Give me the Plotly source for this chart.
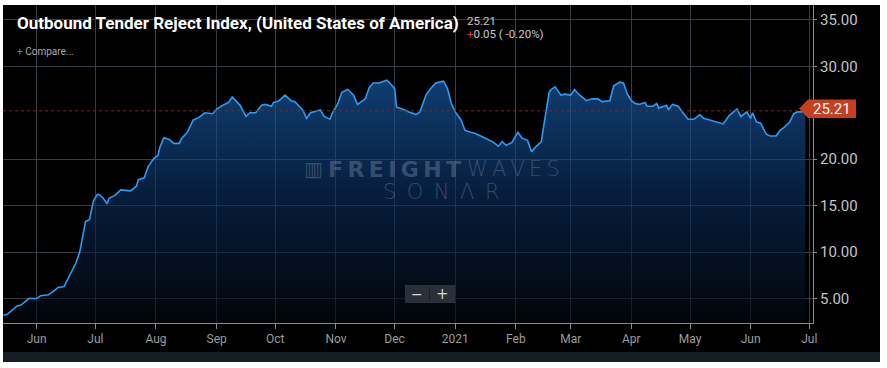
import plotly.graph_objects as go

# ---- data ----
dates = [
    "2020-05-15", "2020-05-17", "2020-05-22", "2020-05-24", "2020-05-28",
    "2020-06-01", "2020-06-03", "2020-06-07", "2020-06-09", "2020-06-12",
    "2020-06-15", "2020-06-17", "2020-06-20", "2020-06-21", "2020-06-23",
    "2020-06-26", "2020-06-28", "2020-06-30", "2020-07-02", "2020-07-03",
    "2020-07-05", "2020-07-07", "2020-07-08", "2020-07-11", "2020-07-14",
    "2020-07-17", "2020-07-19", "2020-07-22", "2020-07-23", "2020-07-26",
    "2020-07-28", "2020-07-31", "2020-08-02", "2020-08-03", "2020-08-05",
    "2020-08-08", "2020-08-10", "2020-08-13", "2020-08-14", "2020-08-17",
    "2020-08-20", "2020-08-23", "2020-08-26", "2020-08-30", "2020-09-01",
    "2020-09-04", "2020-09-07", "2020-09-09", "2020-09-11", "2020-09-13",
    "2020-09-16", "2020-09-18", "2020-09-21", "2020-09-24", "2020-09-26",
    "2020-09-29", "2020-09-30", "2020-10-03", "2020-10-06", "2020-10-09",
    "2020-10-11", "2020-10-15", "2020-10-17", "2020-10-19", "2020-10-24",
    "2020-10-26", "2020-10-29", "2020-10-30", "2020-11-02", "2020-11-04",
    "2020-11-07", "2020-11-10", "2020-11-12", "2020-11-15", "2020-11-16",
    "2020-11-18", "2020-11-20", "2020-11-23", "2020-11-27", "2020-11-29",
    "2020-12-01", "2020-12-02", "2020-12-05", "2020-12-08", "2020-12-12",
    "2020-12-14", "2020-12-17", "2020-12-19", "2020-12-22", "2020-12-26",
    "2020-12-28", "2020-12-30", "2021-01-01", "2021-01-04", "2021-01-06",
    "2021-01-09", "2021-01-11", "2021-01-14", "2021-01-17", "2021-01-20",
    "2021-01-23", "2021-01-25", "2021-01-27", "2021-01-30", "2021-02-02",
    "2021-02-04", "2021-02-07", "2021-02-09", "2021-02-11", "2021-02-14",
    "2021-02-15", "2021-02-16", "2021-02-18", "2021-02-19", "2021-02-21",
    "2021-02-24", "2021-02-26", "2021-03-01", "2021-03-03", "2021-03-05",
    "2021-03-09", "2021-03-12", "2021-03-15", "2021-03-17", "2021-03-21",
    "2021-03-23", "2021-03-26", "2021-03-28", "2021-03-30", "2021-04-01",
    "2021-04-03", "2021-04-05", "2021-04-08", "2021-04-09", "2021-04-12",
    "2021-04-14", "2021-04-15", "2021-04-19", "2021-04-20", "2021-04-22",
    "2021-04-25", "2021-04-27", "2021-04-30", "2021-05-03", "2021-05-06",
    "2021-05-08", "2021-05-11", "2021-05-15", "2021-05-18", "2021-05-21",
    "2021-05-23", "2021-05-25", "2021-05-27", "2021-05-30", "2021-06-01",
    "2021-06-02", "2021-06-04", "2021-06-06", "2021-06-09", "2021-06-11",
    "2021-06-14", "2021-06-16", "2021-06-18", "2021-06-21", "2021-06-23",
    "2021-06-25", "2021-06-27", "2021-06-29",
]
otri = [
    3.2, 3.3, 4.2, 4.3, 5.0,
    5.0, 5.3, 5.4, 5.7, 6.2,
    6.3, 7.1, 8.4, 8.8, 10.0,
    13.3, 13.5, 15.5, 16.2, 16.2,
    15.8, 15.2, 15.8, 16.1, 16.7,
    16.6, 16.6, 17.1, 17.8, 18.0,
    19.2, 20.1, 20.4, 21.3, 22.3,
    22.1, 21.7, 21.7, 22.2, 22.9,
    24.2, 24.5, 25.0, 24.9, 25.4,
    25.8, 26.1, 26.7, 26.3, 25.8,
    24.6, 25.0, 25.0, 25.8, 25.9,
    25.7, 26.1, 26.3, 26.9, 26.3,
    26.2, 25.3, 24.4, 25.0, 25.3,
    24.6, 24.3, 24.9, 26.0, 27.2,
    27.5, 26.9, 25.9, 26.3, 26.5,
    27.7, 28.2, 28.2, 28.5, 28.1,
    27.6, 25.6, 25.4, 25.1, 24.8,
    25.1, 26.9, 27.5, 28.2, 28.4,
    27.6, 26.0, 25.1, 24.2, 23.1,
    22.9, 22.8, 22.5, 22.2, 21.9,
    21.4, 21.9, 21.5, 21.8, 22.9,
    22.3, 22.0, 20.8, 21.3, 21.9,
    23.3, 24.7, 27.2, 27.5, 27.8,
    26.9, 27.0, 26.9, 27.5, 27.0,
    26.3, 26.5, 26.5, 26.2, 26.3,
    27.9, 28.3, 28.2, 27.0, 26.3,
    26.0, 25.9, 26.1, 25.7, 25.7,
    26.0, 25.5, 25.8, 25.3, 25.9,
    25.7, 25.1, 24.3, 24.3, 24.8,
    24.4, 24.2, 24.0, 23.8, 24.7,
    25.1, 25.4, 24.6, 25.1, 24.4,
    25.0, 24.0, 23.9, 22.7, 22.5,
    22.5, 23.1, 23.4, 24.0, 24.9,
    25.1, 25.1, 25.21,
]

x_tickvals = ["2020-06-01", "2020-07-01", "2020-08-01", "2020-09-01", "2020-10-01",
              "2020-11-01", "2020-12-01", "2021-01-01", "2021-02-01", "2021-03-01",
              "2021-04-01", "2021-05-01", "2021-06-01", "2021-07-01"]
x_ticktext = ["Jun", "Jul", "Aug", "Sep", "Oct", "Nov", "Dec", "2021",
              "Feb", "Mar", "Apr", "May", "Jun", "Jul"]
# the 25.00 label is hidden behind the last-value tag in the reference
y_tickvals = [5, 10, 15, 20, 30, 35]

title_text = "Outbound Tender Reject Index, (United States of America)"
last_value = otri[-1]
change_text = "0.05 ( -0.20%)"

# ---- figure ----
fig = go.Figure()
fig.add_trace(go.Scatter(
    x=dates, y=otri, mode="lines",
    line=dict(color="#2b9bf4", width=1.6),
    fill="tozeroy",
    fillgradient=dict(
        type="vertical",
        start=2.4, stop=28.5,
        colorscale=[[0, "rgba(3,8,15,0.6)"],
                    [0.5, "rgba(10,46,96,0.6)"],
                    [1, "rgba(26,102,186,0.6)"]],
    ),
    hoverinfo="skip",
    showlegend=False,
))

W, H = 887, 368
ml, mr, mt, mb = 3, 74, 5, 45
pw = W - ml - mr
ph = H - mt - mb


def px_x(px):
    return (px - ml) / pw


def px_y(py):
    return (H - mb - py) / ph


shapes = [
    # dark chart background
    dict(type="rect", xref="paper", yref="paper", layer="below",
         x0=px_x(3), x1=px_x(880), y0=px_y(352), y1=px_y(5),
         fillcolor="#000000", line=dict(width=0)),
    # bottom navigator band
    dict(type="rect", xref="paper", yref="paper", layer="below",
         x0=px_x(3), x1=px_x(880), y0=px_y(362), y1=px_y(352),
         fillcolor="#161c24", line=dict(width=0)),
    # last-value dashed line
    dict(type="line", xref="paper", yref="y", layer="above",
         x0=0, x1=px_x(800), y0=last_value, y1=last_value,
         line=dict(color="#7e2818", width=1, dash="3px,3px")),
    # price tag
    dict(type="path", xref="paper", yref="paper", layer="above",
         path=(f"M {px_x(799)},{px_y(108.7)} L {px_x(808)},{px_y(99.5)} "
               f"L {px_x(856)},{px_y(99.5)} L {px_x(856)},{px_y(118)} "
               f"L {px_x(808)},{px_y(118)} Z"),
         fillcolor="#c63f1f", line=dict(width=0)),
    # zoom buttons
    dict(type="rect", xref="paper", yref="paper", layer="above",
         x0=px_x(405), x1=px_x(455), y0=px_y(303), y1=px_y(285),
         fillcolor="#2a3038", line=dict(width=0)),
    dict(type="line", xref="paper", yref="paper", layer="above",
         x0=px_x(429.5), x1=px_x(429.5), y0=px_y(301), y1=px_y(287),
         line=dict(color="#1a1f26", width=1)),
]

wm = "rgba(140,160,185,0.36)"
annotations = [
    dict(text=f"<b>{title_text}</b>", xref="paper", yref="paper",
         x=px_x(15), y=px_y(23), xanchor="left", yanchor="middle", showarrow=False,
         font=dict(family="Roboto", size=17, color="#ffffff")),
    dict(text=f"{last_value:.2f}", xref="paper", yref="paper",
         x=px_x(465), y=px_y(20.5), xanchor="left", yanchor="middle", showarrow=False,
         font=dict(family="Roboto", size=11.5, color="#c8c8c8")),
    dict(text=f"<span style='color:#e8332a'>+</span>{change_text}", xref="paper", yref="paper",
         x=px_x(465), y=px_y(34), xanchor="left", yanchor="middle", showarrow=False,
         font=dict(family="Roboto", size=11.5, color="#c8c8c8")),
    dict(text="<span style='color:#3b8fe8'>+</span> Compare...", xref="paper", yref="paper",
         x=px_x(15), y=px_y(52), xanchor="left", yanchor="middle", showarrow=False,
         font=dict(family="Roboto", size=10, color="#a8a8a8")),
    dict(text=f"{last_value:.2f}", xref="paper", yref="paper",
         x=px_x(832), y=px_y(109), xanchor="center", yanchor="middle", showarrow=False,
         font=dict(family="Roboto", size=15, color="#ffffff")),
    # watermark
    dict(text="\u25a5", xref="paper", yref="paper",
         x=px_x(313), y=px_y(169), xanchor="center", yanchor="middle", showarrow=False,
         font=dict(family="DejaVu Sans", size=20, color=wm)),
    dict(text="F\u2009R\u2009E\u2009I\u2009G\u2009H\u2009T", xref="paper", yref="paper",
         x=px_x(463), y=px_y(169), xanchor="right", yanchor="middle", showarrow=False,
         font=dict(family="DejaVu Sans", size=22, color=wm, weight=700)),
    dict(text="W\u2009A\u2009V\u2009E\u2009S", xref="paper", yref="paper",
         x=px_x(465), y=px_y(169), xanchor="left", yanchor="middle", showarrow=False,
         font=dict(family="DejaVu Sans", size=21, color=wm, weight=200)),
    dict(text="S\u2002O\u2002N\u2002\u039b\u2002R", xref="paper", yref="paper",
         x=px_x(441), y=px_y(192), xanchor="center", yanchor="middle", showarrow=False,
         font=dict(family="DejaVu Sans", size=21, color=wm, weight=200)),
    # zoom button glyphs
    dict(text="\u2212", xref="paper", yref="paper",
         x=px_x(417), y=px_y(294), xanchor="center", yanchor="middle", showarrow=False,
         font=dict(family="DejaVu Sans", size=14, color="#d8d8d8")),
    dict(text="+", xref="paper", yref="paper",
         x=px_x(442), y=px_y(294), xanchor="center", yanchor="middle", showarrow=False,
         font=dict(family="DejaVu Sans", size=15, color="#d8d8d8")),
]

fig.update_layout(
    width=W, height=H,
    margin=dict(l=ml, r=mr, t=mt, b=mb, pad=0),
    paper_bgcolor="#ffffff",
    plot_bgcolor="rgba(0,0,0,0)",
    shapes=shapes,
    annotations=annotations,
    showlegend=False,
    hovermode=False,
    xaxis=dict(
        type="date",
        range=["2020-05-14 19:00", "2021-07-02 21:00"],
        tickvals=x_tickvals, ticktext=x_ticktext,
        showgrid=True, gridcolor="rgba(58,64,74,0.95)", gridwidth=1,
        showline=True, linecolor="#8a8a8a", linewidth=1,
        ticks="outside", ticklen=5, tickcolor="#8a8a8a",
        tickfont=dict(family="Roboto", size=12, color="#9c9c9c"),
        zeroline=False, fixedrange=True,
    ),
    yaxis=dict(
        side="right",
        range=[2.37, 36.6],
        tickvals=y_tickvals, tickformat=".2f",
        showgrid=True, gridcolor="rgba(58,64,74,0.95)", gridwidth=1,
        showline=True, linecolor="#8a8a8a", linewidth=1,
        ticks="outside", ticklen=3, tickcolor="#8a8a8a",
        tickfont=dict(family="Roboto", size=15, color="#c4c4c4"),
        zeroline=False, fixedrange=True,
    ),
)

fig.write_html("out.html", config={"displayModeBar": False},
               post_script="document.body.style.margin='0';")
